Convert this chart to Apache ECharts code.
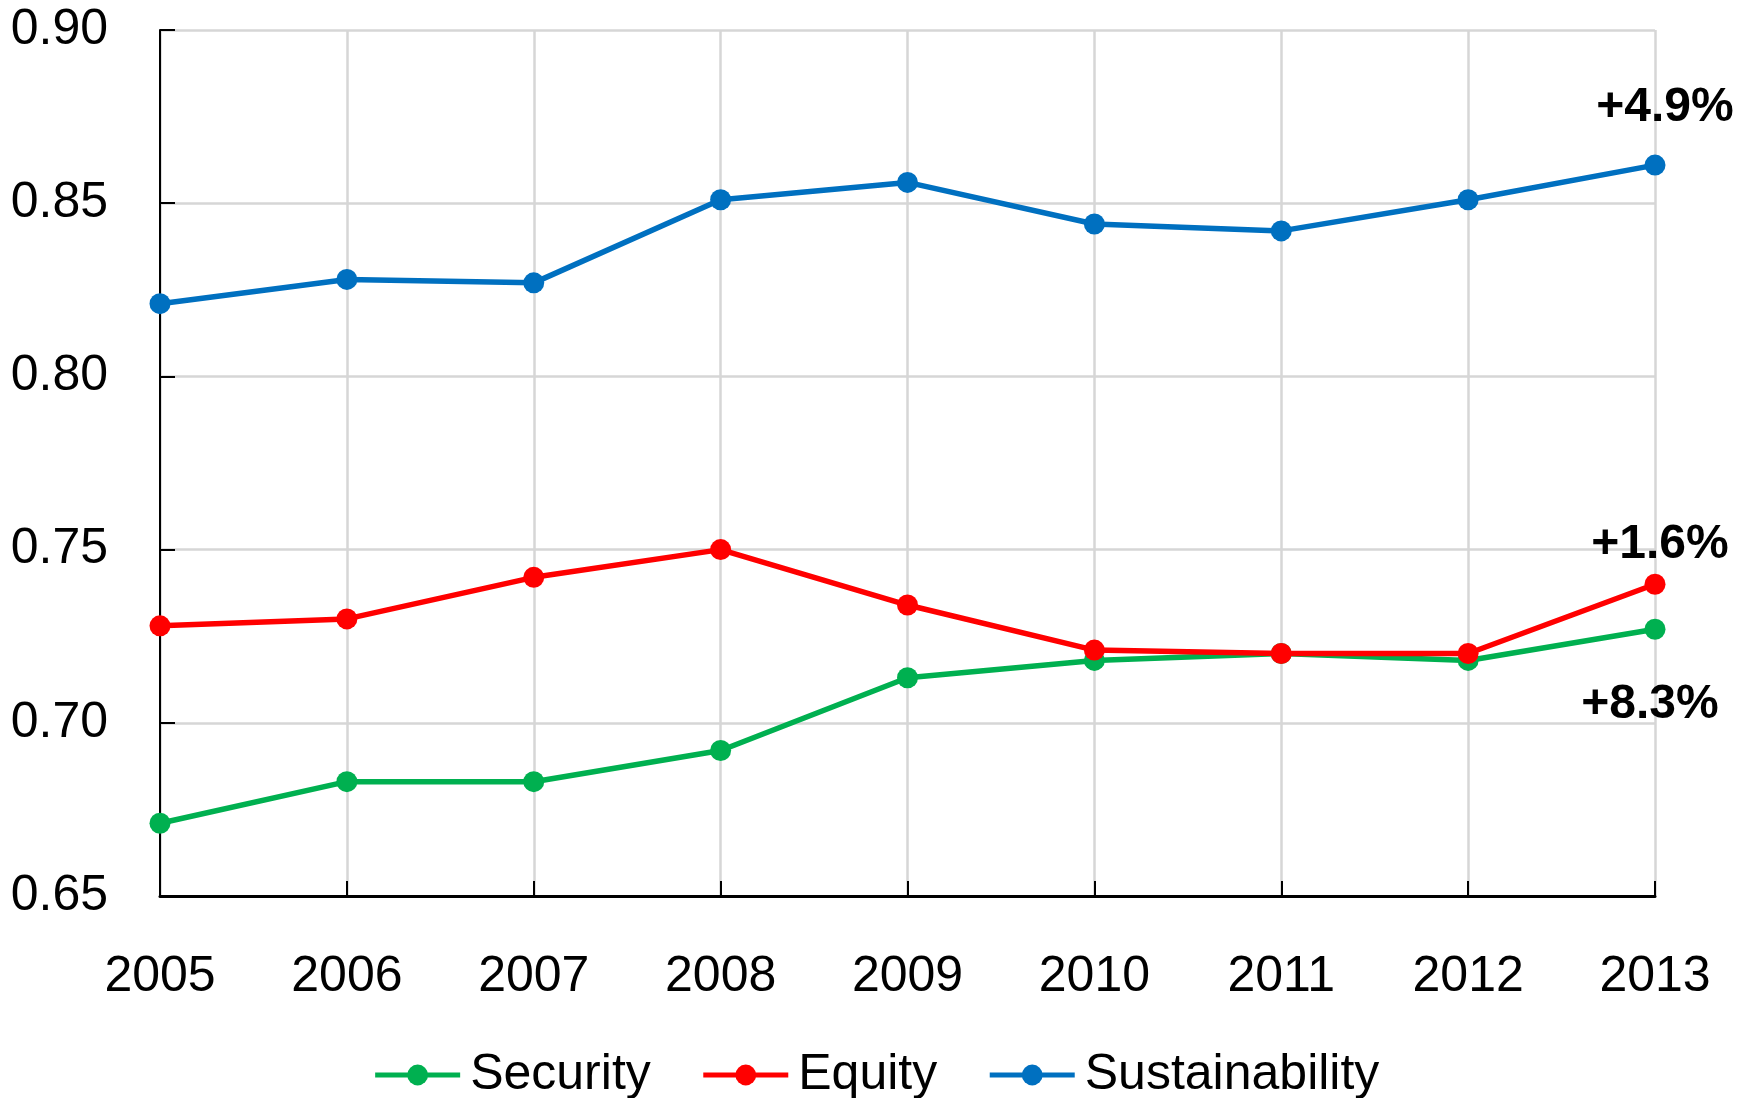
<!DOCTYPE html>
<html>
<head>
<meta charset="utf-8">
<script src="https://cdn.jsdelivr.net/npm/echarts@6/dist/echarts.min.js"></script>
<style>
html,body{margin:0;padding:0;background:#fff;}
#chart{width:1752px;height:1098px;}
</style>
</head>
<body>
<div id="chart"></div>
<script>
const years = ['2005','2006','2007','2008','2009','2010','2011','2012','2013'];
const security = [0.671, 0.683, 0.683, 0.692, 0.713, 0.718, 0.720, 0.718, 0.727];
const equity = [0.728, 0.730, 0.742, 0.750, 0.734, 0.721, 0.720, 0.720, 0.740];
const sustainability = [0.821, 0.828, 0.827, 0.851, 0.856, 0.844, 0.842, 0.851, 0.861];
const seriesNames = ['Security', 'Equity', 'Sustainability'];
const changeLabels = ['+8.3%', '+1.6%', '+4.9%'];
const yTicks = [0.65, 0.70, 0.75, 0.80, 0.85, 0.90];

const colors = ['#00b050', '#ff0000', '#0070c0'];
const labelOffsets = [[-5, 75], [5, -39], [10, -57]];
const FONT = 'Liberation Sans, Arial, Helvetica, sans-serif';

function build(values, idx) {
  return values.map((v, i) => {
    if (i === values.length - 1) {
      return {
        value: v,
        label: {
          show: true,
          position: 'inside',
          offset: labelOffsets[idx],
          formatter: changeLabels[idx],
          fontFamily: FONT,
          fontWeight: 'bold',
          fontSize: 48,
          color: '#000'
        }
      };
    }
    return v;
  });
}

const allData = [security, equity, sustainability];
const chart = echarts.init(document.getElementById('chart'), null, {renderer: 'canvas'});
chart.setOption({
  animation: false,
  backgroundColor: '#fff',
  textStyle: {fontFamily: FONT},
  grid: {left: 160, right: 97, top: 30, bottom: 202, containLabel: false},
  legend: {
    left: 'center',
    top: 1045,
    itemWidth: 85,
    itemHeight: 26,
    itemGap: 50,
    lineStyle: {width: 5},
    textStyle: {fontSize: 50, color: '#000', fontFamily: FONT, padding: [0, 0, 0, 5]},
    data: seriesNames
  },
  xAxis: {
    type: 'category',
    data: years,
    boundaryGap: false,
    axisLine: {lineStyle: {color: '#000', width: 3}},
    axisTick: {show: true, inside: true, length: 15, lineStyle: {color: '#000', width: 2}},
    axisLabel: {fontSize: 50, color: '#000', margin: 56, fontFamily: FONT},
    splitLine: {show: true, lineStyle: {color: '#d6d6d6', width: 2.5}}
  },
  yAxis: {
    type: 'value',
    min: yTicks[0],
    max: yTicks[yTicks.length - 1],
    interval: 0.05,
    axisLine: {show: true, lineStyle: {color: '#000', width: 2}},
    axisTick: {show: true, inside: true, length: 15, lineStyle: {color: '#000', width: 2}},
    axisLabel: {fontSize: 50, color: '#000', margin: 52, fontFamily: FONT,
      formatter: v => v.toFixed(2)},
    splitLine: {show: true, lineStyle: {color: '#d6d6d6', width: 2.5}}
  },
  series: seriesNames.map((name, idx) => ({
    name: name,
    type: 'line',
    data: build(allData[idx], idx),
    symbol: 'circle',
    symbolSize: 21,
    color: colors[idx],
    lineStyle: {width: 5.5, color: colors[idx]},
    itemStyle: {color: colors[idx]},
    z: 3 + idx
  }))
});
</script>
</body>
</html>
